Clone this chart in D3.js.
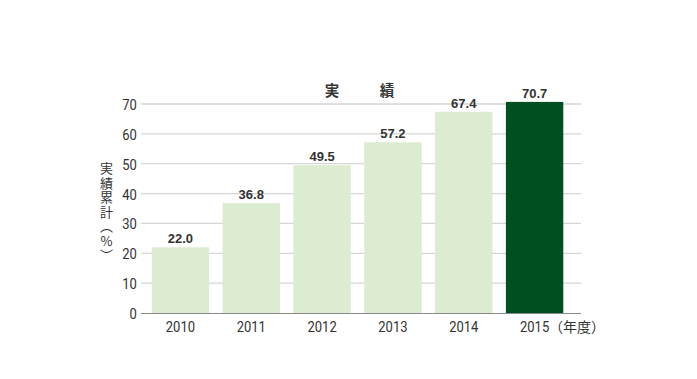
<!DOCTYPE html>
<html><head><meta charset="utf-8">
<script src="https://cdn.jsdelivr.net/npm/d3@7"></script>
<style>body{margin:0;background:#fff;position:relative}svg{display:block}
.ytitle{position:absolute;writing-mode:vertical-rl;text-orientation:upright;font-family:"Noto Sans CJK JP",sans-serif;font-size:13px;line-height:14px;letter-spacing:1.5px;color:#333;white-space:nowrap}
</style>
</head><body>
<script>
const years = ["2010","2011","2012","2013","2014","2015"];
const values = [22.0, 36.8, 49.5, 57.2, 67.4, 70.7];
const labels = ["22.0","36.8","49.5","57.2","67.4","70.7"];
const yTicks = [0,10,20,30,40,50,60,70];
const titleChars = ["実","績"];
const yTitle = "実績累計（%）";
const unit = "（年度）";

const W=697,H=379;
const svg=d3.select("body").append("svg").attr("width",W).attr("height",H);
const y=d3.scaleLinear().domain([0,70]).range([313,104]);
const x=d3.scaleBand().domain(years).range([145,570]).paddingInner(0.19).paddingOuter(0.095);
const gl=141, gr=581;
const SX=0.84;

svg.append("g").selectAll("line").data(yTicks.filter(d=>d>0)).join("line")
 .attr("x1",gl).attr("x2",gr).attr("y1",d=>y(d)).attr("y2",d=>y(d))
 .attr("stroke","#d6d6d6").attr("stroke-width",1.3);

const yAxis=d3.axisLeft(y).tickValues(yTicks).tickSize(0).tickPadding(5);
const ga=svg.append("g").attr("transform",`translate(${gl},0)`).call(yAxis);
ga.select(".domain").remove();
ga.selectAll("text").attr("font-family","Roboto, sans-serif").attr("font-size",15.5).attr("fill","#333")
 .attr("dy","0.35em").attr("transform",`scale(${SX},1)`);

svg.append("g").selectAll("rect").data(values).join("rect")
 .attr("x",(d,i)=>x(years[i])).attr("width",x.bandwidth())
 .attr("y",d=>y(d)).attr("height",d=>y(0)-y(d))
 .attr("fill",(d,i)=>i===years.length-1?"#004f22":"#dcecd0");

svg.append("line").attr("x1",gl).attr("x2",gr).attr("y1",y(0)+0.5).attr("y2",y(0)+0.5)
 .attr("stroke","#8a8a8a").attr("stroke-width",1.2);

svg.append("g").selectAll("text").data(values).join("text")
 .attr("x",(d,i)=>x(years[i])+x.bandwidth()/2).attr("y",d=>y(d)-4)
 .attr("text-anchor","middle").attr("font-family","Liberation Sans, Arial, sans-serif")
 .attr("font-weight","bold").attr("font-size",13).attr("fill","#333")
 .text((d,i)=>labels[i]);

const xAxis=d3.axisBottom(x).tickSize(0).tickPadding(0);
const gx=svg.append("g").attr("transform",`translate(0,${y(0)})`).call(xAxis);
gx.select(".domain").remove();
gx.selectAll("text").attr("font-family","Roboto, sans-serif").attr("font-size",15.5).attr("fill","#333")
 .attr("dy",null).attr("y",19).attr("transform",`scale(${SX},1)`);

svg.append("text").attr("x",549).attr("y",332)
 .attr("font-family","Noto Sans CJK JP, sans-serif").attr("font-size",14).attr("fill","#333")
 .text(unit);

const tX=[332,387];
svg.append("g").selectAll("text").data(titleChars).join("text")
 .attr("x",(d,i)=>tX[i]).attr("y",96).attr("text-anchor","middle")
 .attr("font-family","Noto Sans CJK JP, sans-serif").attr("font-weight","bold").attr("font-size",14.5).attr("fill","#333")
 .text(d=>d);

d3.select("body").append("div").attr("class","ytitle")
 .style("left","99px").style("top","162px").text(yTitle);
</script>
</body></html>
